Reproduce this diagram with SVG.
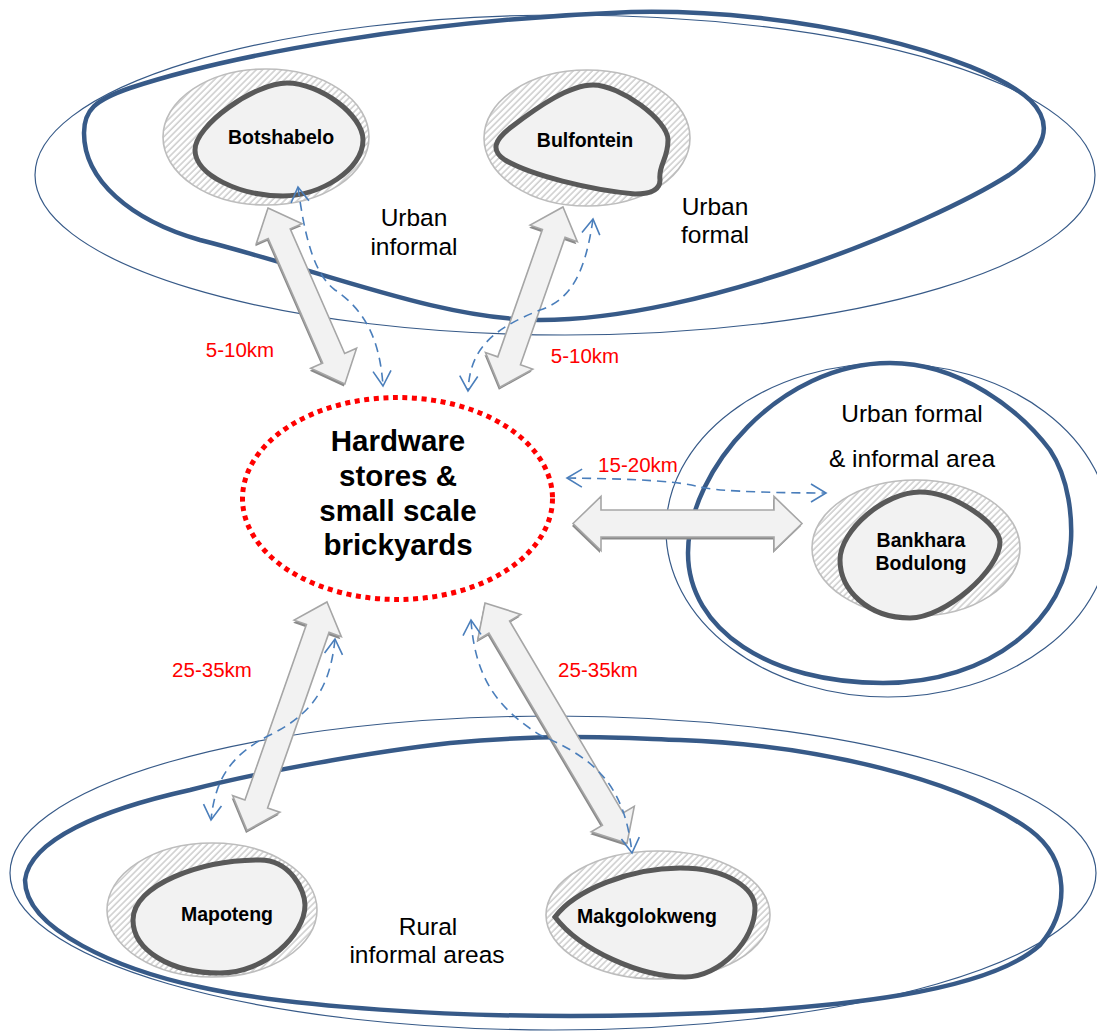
<svg xmlns="http://www.w3.org/2000/svg" width="1097" height="1036" viewBox="0 0 1097 1036">
  <defs>
    <pattern id="hatch" patternUnits="userSpaceOnUse" width="4.5" height="4.5" patternTransform="rotate(45)">
      <rect width="4.5" height="4.5" fill="#ffffff"/>
      <line x1="1" y1="0" x2="1" y2="4.5" stroke="#c4c4c4" stroke-width="1.3"/>
    </pattern>
    <marker id="vhead" viewBox="-17 -10 19 20" refX="0" refY="0" markerWidth="19" markerHeight="20" markerUnits="userSpaceOnUse" orient="auto-start-reverse">
      <path d="M-15,-9 L0,0 L-15,9" fill="none" stroke="#4a7ebb" stroke-width="1.6"/>
    </marker>
    <style>
      .zone-thin { fill: none; stroke: #375a88; stroke-width: 1.2; }
      .zone-thick { fill: none; stroke: #375a88; stroke-width: 4.5; stroke-linejoin: round; }
      .halo { fill: url(#hatch); stroke: #bdbdbd; stroke-width: 1.6; }
      .core { fill: #f2f2f2; stroke: #595959; stroke-width: 5; }
      .place { font-family: "Liberation Sans", Arial, sans-serif; font-weight: bold; font-size: 19.5px; fill: #000; text-anchor: middle; }
      .zone-label { font-family: "Liberation Sans", Arial, sans-serif; font-size: 24.5px; fill: #000; text-anchor: middle; }
      .dist { font-family: "Liberation Sans", Arial, sans-serif; font-size: 20.5px; fill: #ff0000; text-anchor: middle; }
      .hub { fill: #ffffff; stroke: #ff0000; stroke-width: 5; stroke-dasharray: 5 4.6; }
      .hub-text { font-family: "Liberation Sans", Arial, sans-serif; font-weight: bold; font-size: 29.5px; fill: #000; text-anchor: middle; }
      .flow { fill: #f2f2f2; stroke: #a6a6a6; stroke-width: 1.6; stroke-linejoin: miter; }
      .flow-shadow { fill: #8a8a8a; }
      .trip { fill: none; stroke: #4a7ebb; stroke-width: 1.6; stroke-dasharray: 9 6; marker-start: url(#vhead); marker-end: url(#vhead); }
    </style>
  </defs>

  <rect width="1097" height="1036" fill="#ffffff"/>

  <!-- zones -->
  <g id="zone-urban-top">
    <ellipse class="zone-thin" cx="565" cy="175" rx="530" ry="160"/>
    <path class="zone-thick" d="M 84,133 C 84,110 95,100 130,88 C 230,55 420,20 631,12 C 800,8 980,55 1030,100 C 1055,125 1045,150 1009,175 C 930,225 700,320 540,320 C 440,320 320,270 200,240 C 130,220 84,180 84,133 Z"/>
    <text class="zone-label" x="414" y="226">Urban</text>
    <text class="zone-label" x="414" y="255">informal</text>
    <text class="zone-label" x="715" y="215">Urban</text>
    <text class="zone-label" x="715" y="243">formal</text>
  </g>

  <g id="zone-urban-right">
    <ellipse class="zone-thin" cx="888" cy="530" rx="222" ry="167"/>
    <path class="zone-thick" d="M 688,553 C 688,470 780,363 890,363 C 960,363 1020,410 1050,450 C 1070,480 1072,520 1071,540 C 1068,620 990,683 883,683 C 770,683 688,630 688,553 Z"/>
    <text class="zone-label" x="912" y="422">Urban formal</text>
    <text class="zone-label" x="912" y="467">&amp; informal area</text>
  </g>

  <g id="zone-rural">
    <ellipse class="zone-thin" cx="553" cy="873" rx="543" ry="157"/>
    <path class="zone-thick" d="M 25,880 C 30,840 100,810 190,790 C 260,772 370,752 450,743 C 560,733 620,738 680,740 C 820,745 960,780 1030,830 C 1070,860 1070,910 1040,945 C 990,990 850,1010 650,1015 C 450,1020 280,1005 200,987 C 120,970 25,930 25,880 Z"/>
    <text class="zone-label" x="428" y="935">Rural</text>
    <text class="zone-label" x="427" y="963">informal areas</text>
  </g>

  <!-- settlements -->
  <g id="node-botshabelo">
    <ellipse class="halo" cx="266" cy="137" rx="103" ry="68"/>
    <path class="core" d="M 287,83 C 320,83 363,115 363,140 C 363,170 320,196 283,196 C 240,196 195,175 195,150 C 195,125 255,83 287,83 Z"/>
    <text class="place" x="281" y="144">Botshabelo</text>
  </g>

  <g id="node-bulfontein">
    <ellipse class="halo" cx="587" cy="138" rx="103" ry="68"/>
    <path class="core" d="M 593,85 C 620,85 668,120 668,140 C 668,160 658,165 660,180 C 660,190 650,194 635,194 C 590,190 530,175 505,160 C 490,150 495,140 510,128 C 540,105 570,85 593,85 Z"/>
    <text class="place" x="585" y="147">Bulfontein</text>
  </g>

  <g id="node-bankhara">
    <ellipse class="halo" cx="916" cy="548" rx="104" ry="68"/>
    <path class="core" d="M 920,492 C 955,492 1000,525 1000,542 C 1000,570 945,618 910,618 C 868,618 840,590 840,560 C 840,530 885,492 920,492 Z"/>
    <text class="place" x="921" y="547">Bankhara</text>
    <text class="place" x="921" y="570">Bodulong</text>
  </g>

  <g id="node-mapoteng">
    <ellipse class="halo" cx="212" cy="910" rx="105" ry="67"/>
    <path class="core" d="M 260,860 C 290,860 305,890 305,905 C 305,935 265,973 220,973 C 170,973 133,950 133,920 C 133,885 200,860 260,860 Z"/>
    <text class="place" x="227" y="921">Mapoteng</text>
  </g>

  <g id="node-makgolokweng">
    <ellipse class="halo" cx="658" cy="915" rx="112" ry="64"/>
    <path class="core" d="M 555,917 C 575,890 630,868 680,868 C 730,868 755,890 755,908 C 755,940 720,977 685,977 C 640,977 580,950 555,917 Z"/>
    <text class="place" x="647" y="923">Makgolokweng</text>
  </g>

  <!-- central market -->
  <g id="node-hub">
    <ellipse class="hub" cx="397.5" cy="498.5" rx="155" ry="101"/>
    <text class="hub-text" x="398" y="451">Hardware</text>
    <text class="hub-text" x="398" y="486">stores &amp;</text>
    <text class="hub-text" x="398" y="521">small scale</text>
    <text class="hub-text" x="398" y="555">brickyards</text>
  </g>

  <!-- connectors: block arrows for material flow, dashed arrows for trips -->
  <g id="connectors">
    <g transform="translate(-1,2.5)">
      <polygon class="flow-shadow" transform="translate(268,208) rotate(66.4)" points="0,0 28,-25 28,-12 164,-12 164,-25 192,0 164,25 164,12 28,12 28,25"/>
      <polygon class="flow-shadow" transform="translate(563,207) rotate(109.3)" points="0,0 28,-25 28,-12 163,-12 163,-25 191,0 163,25 163,12 28,12 28,25"/>
      <polygon class="flow-shadow" transform="translate(573,523.5)" points="0,0 28,-27 28,-13.5 201,-13.5 201,-27 229,0 201,27 201,13.5 28,13.5 28,27"/>
      <polygon class="flow-shadow" transform="translate(327,602) rotate(109.3)" points="0,0 28,-25 28,-12 214,-12 214,-25 242,0 214,25 214,12 28,12 28,25"/>
      <polygon class="flow-shadow" transform="translate(485,603) rotate(59.4)" points="0,0 28,-25 28,-12 251,-12 251,-25 279,0 251,25 251,12 28,12 28,25"/>
    </g>
    <polygon id="flow-botshabelo" class="flow" transform="translate(268,208) rotate(66.4)" points="0,0 28,-25 28,-12 164,-12 164,-25 192,0 164,25 164,12 28,12 28,25"/>
    <polygon id="flow-bulfontein" class="flow" transform="translate(563,207) rotate(109.3)" points="0,0 28,-25 28,-12 163,-12 163,-25 191,0 163,25 163,12 28,12 28,25"/>
    <polygon id="flow-bankhara" class="flow" transform="translate(573,523.5)" points="0,0 28,-27 28,-13.5 201,-13.5 201,-27 229,0 201,27 201,13.5 28,13.5 28,27"/>
    <polygon id="flow-mapoteng" class="flow" transform="translate(327,602) rotate(109.3)" points="0,0 28,-25 28,-12 214,-12 214,-25 242,0 214,25 214,12 28,12 28,25"/>
    <polygon id="flow-makgolokweng" class="flow" transform="translate(485,603) rotate(59.4)" points="0,0 28,-25 28,-12 251,-12 251,-25 279,0 251,25 251,12 28,12 28,25"/>

    <path class="trip" d="M 298,187 C 305,240 315,275 335,290 C 365,310 380,340 383,386"/>
    <path class="trip" d="M 593,219 C 585,275 570,300 540,310 C 490,330 470,350 468,391"/>
    <path class="trip" d="M 567,478 C 650,479 680,482 700,487 S 790,493 826,493"/>
    <path class="trip" d="M 335,639 C 330,690 310,715 270,735 C 230,755 215,780 211,820"/>
    <path class="trip" d="M 471,620 C 475,680 500,710 540,735 C 600,760 625,790 632,853"/>

    <text class="dist" x="240" y="357">5-10km</text>
    <text class="dist" x="585" y="363">5-10km</text>
    <text class="dist" x="638" y="472">15-20km</text>
    <text class="dist" x="212" y="677">25-35km</text>
    <text class="dist" x="598" y="677">25-35km</text>
  </g>
</svg>
